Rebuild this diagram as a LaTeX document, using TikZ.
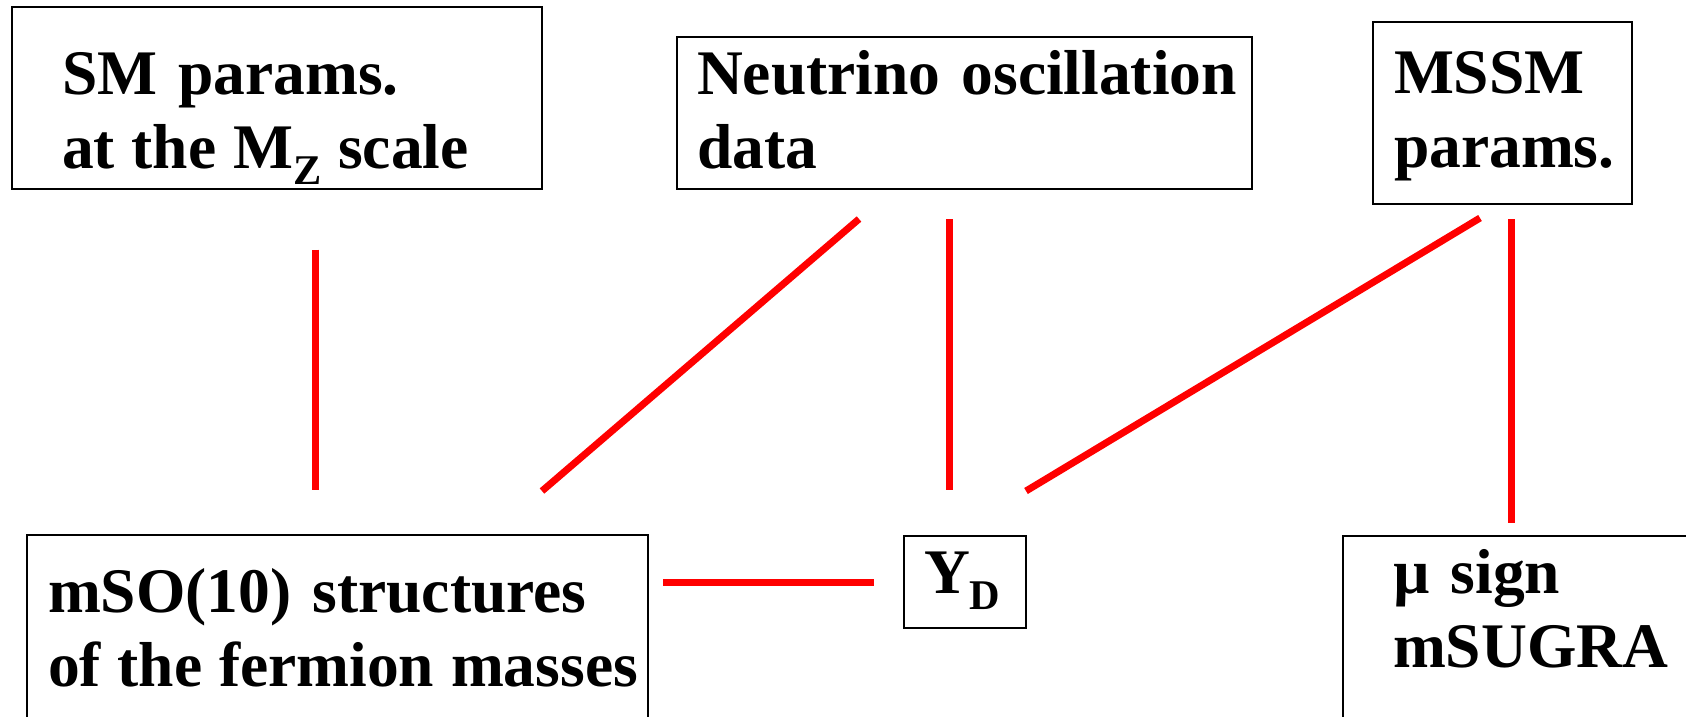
\documentclass[tikz,border=0pt]{standalone}
\usepackage{fontspec}
\setmainfont{Liberation Serif}
\newcommand{\lowsub}[1]{\raisebox{-16pt}{\fontsize{42.3}{42}\selectfont #1}}
\newcommand{\tightline}[1]{\mbox{\spaceskip=0.265em\relax #1}}
\begin{document}
\begin{tikzpicture}[x=1pt,y=-1pt,
  panel/.style={draw,line width=1.5pt,outer sep=0pt,anchor=north west,inner ysep=0pt,align=left,font=\bfseries\fontsize{63.5}{74}\selectfont},
  link/.style={red,line width=7pt}]
  \useasboundingbox (0,0) rectangle (1686,716);
  \clip (0,0) rectangle (1686,716);
  % top row
  \node[panel,inner xsep=50pt,text width=430pt,text height=87pt,text depth=95pt] (sm) at (12,7) {\mbox{SM params.}\\\tightline{at the M\lowsub{Z} scale}};
  \node[panel,inner xsep=20pt,text width=535pt,text height=57pt,text depth=95pt] (nu) at (677,37) {\mbox{Neutrino oscillation}\\\mbox{data}};
  \node[panel,inner xsep=21pt,text width=217pt,text height=71pt,text depth=111pt] (mssm) at (1373,22) {\mbox{MSSM}\\\mbox{params.}};
  % bottom row
  \node[panel,inner xsep=21pt,text width=579pt,text height=77pt,text depth=128pt] (mso) at (27,535) {\mbox{mSO(10) structures}\\\tightline{of the fermion masses}};
  \node[panel,inner xsep=20pt,text width=82pt,text height=57pt,text depth=35pt] (yd) at (904,536) {\mbox{Y\lowsub{D}}};
  \node[panel,inner xsep=50pt,text width=317pt,text height=57pt,text depth=147pt] (mu) at (1343,536) {\mbox{µ sign}\\\mbox{mSUGRA}};
  % links
  \draw[link] ([shift={(303,60.5)}]sm.south west) -- ([shift={(288,-45)}]mso.north west);
  \draw[link] ([shift={(182,30)}]nu.south west) -- ([shift={(515,-44)}]mso.north west);
  \draw[link] ([shift={(272.5,30)}]nu.south west) -- ([shift={(45.5,-46)}]yd.north west);
  \draw[link] ([shift={(107,14)}]mssm.south west) -- ([shift={(0,-45)}]yd.north east);
  \draw[link] ([shift={(138,15)}]mssm.south west) -- ([shift={(168,-13.5)}]mu.north west);
  \draw[link] ([shift={(15,47)}]mso.north east) -- ([shift={(-30,0)}]yd.west);
\end{tikzpicture}
\end{document}
